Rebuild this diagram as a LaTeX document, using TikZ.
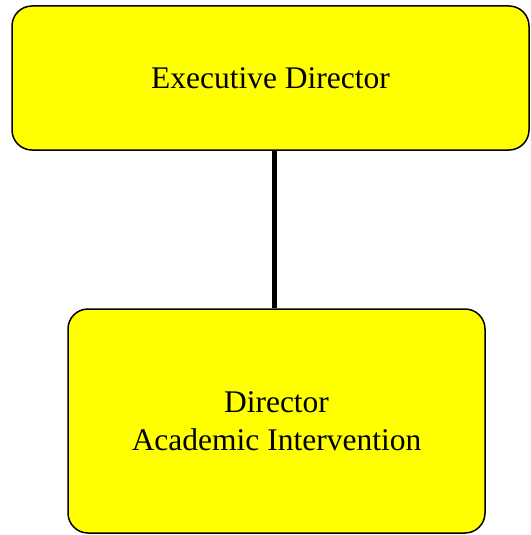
\documentclass[tikz,border=0pt]{standalone}
\usepackage{fontspec}
\setmainfont{Liberation Serif}
\usepackage[dvipsnames]{xcolor}
\definecolor{myyellow}{rgb}{1.,1.,0.}
\usetikzlibrary{positioning,calc}

\begin{document}
\begin{tikzpicture}[x=1pt,y=1pt,
        box/.style={draw,line width=1.5pt,fill=myyellow,rounded corners=20pt,
            align=center,font=\fontsize{31.5}{38}\selectfont,inner sep=0pt}]
        \useasboundingbox (0,0) rectangle (530,-535);
        \node[box,minimum width=517pt,minimum height=144pt] (exec) at (270.5,-78) {Executive Director};
        \node[box,minimum width=417pt,minimum height=224pt,text depth=0pt] (dir) at (276.5,-421) {Director\\Academic Intervention};
        \draw[line width=5pt] ($(dir.north)+(-2.5,0)$) -- ($(dir.north |- exec.south)+(-2.5,0)$);
    \end{tikzpicture}
\end{document}
